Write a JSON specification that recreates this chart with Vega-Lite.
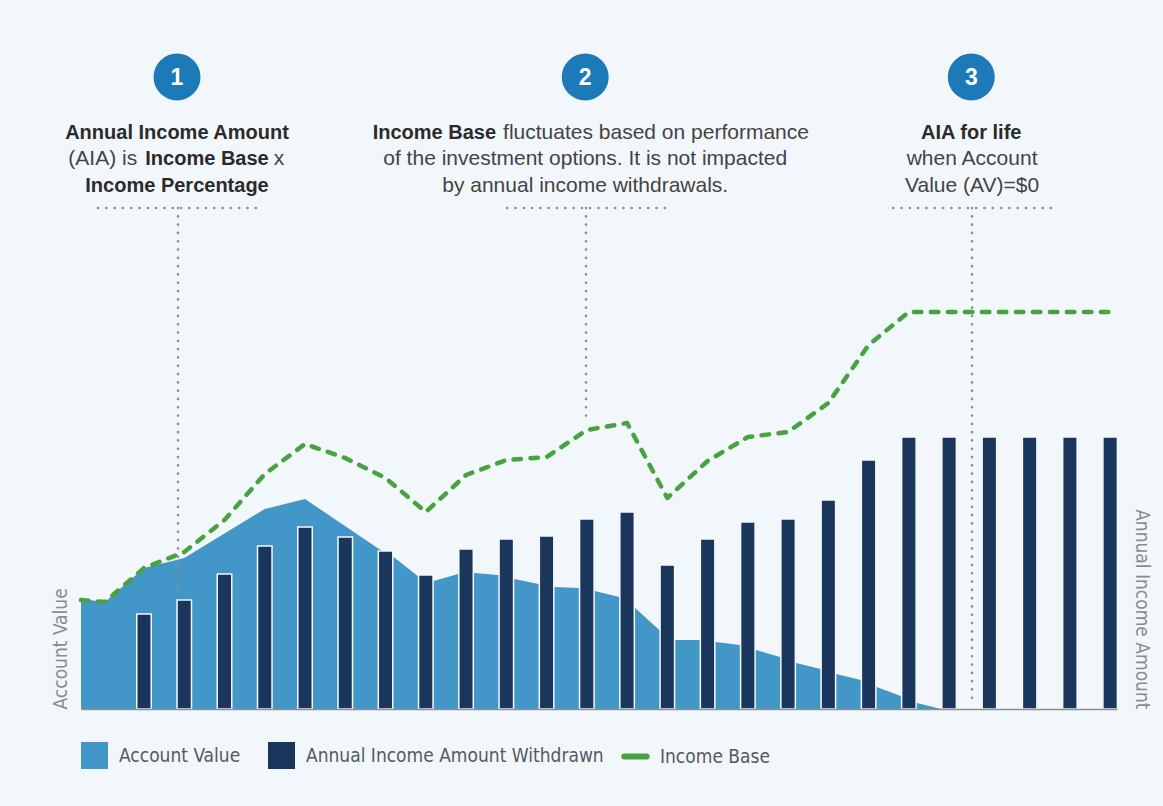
{
  "$schema": "https://vega.github.io/schema/vega-lite/v6.json",
  "width": 1036,
  "height": 689,
  "autosize": {"type": "none"},
  "padding": {"left": 81, "top": 20, "right": 46, "bottom": 97},
  "background": "#f2f7fb",
  "config": {
    "view": {"stroke": null},
    "text": {"font": "Liberation Sans"}
  },
  "datasets": {
    "area": [
      {"t": -0.565, "av": 110}, {"t": 0.03, "av": 107}, {"t": 1, "av": 141}, {"t": 2, "av": 151},
      {"t": 4, "av": 200}, {"t": 5, "av": 210}, {"t": 6.8, "av": 161}, {"t": 7.2, "av": 152},
      {"t": 7.8, "av": 133}, {"t": 8.2, "av": 128}, {"t": 8.8, "av": 135}, {"t": 9.2, "av": 136},
      {"t": 9.8, "av": 134}, {"t": 10.2, "av": 130}, {"t": 10.8, "av": 125}, {"t": 11.2, "av": 122},
      {"t": 11.8, "av": 121}, {"t": 12.2, "av": 118}, {"t": 12.8, "av": 112}, {"t": 13.2, "av": 101},
      {"t": 13.8, "av": 79}, {"t": 14.2, "av": 69}, {"t": 14.8, "av": 69}, {"t": 15.2, "av": 67},
      {"t": 15.8, "av": 64}, {"t": 16.2, "av": 59}, {"t": 16.8, "av": 52}, {"t": 17.2, "av": 46},
      {"t": 17.8, "av": 40}, {"t": 18.2, "av": 35}, {"t": 18.8, "av": 29}, {"t": 19.2, "av": 22},
      {"t": 19.8, "av": 13}, {"t": 20.2, "av": 6}, {"t": 20.8, "av": 0}
    ],
    "bars": [
      {"t": 1, "aia": 95}, {"t": 2, "aia": 109}, {"t": 3, "aia": 135}, {"t": 4, "aia": 163},
      {"t": 5, "aia": 182}, {"t": 6, "aia": 172}, {"t": 7, "aia": 158}, {"t": 8, "aia": 134},
      {"t": 9, "aia": 160}, {"t": 10, "aia": 170}, {"t": 11, "aia": 173}, {"t": 12, "aia": 190},
      {"t": 13, "aia": 197}, {"t": 14, "aia": 144}, {"t": 15, "aia": 170}, {"t": 16, "aia": 187},
      {"t": 17, "aia": 190}, {"t": 18, "aia": 209}, {"t": 19, "aia": 249}, {"t": 20, "aia": 272},
      {"t": 21, "aia": 272}, {"t": 22, "aia": 272}, {"t": 23, "aia": 272}, {"t": 24, "aia": 272},
      {"t": 25, "aia": 272}
    ],
    "base": [
      {"t": -0.565, "ib": 109}, {"t": 0.03, "ib": 107}, {"t": 1, "ib": 141}, {"t": 2, "ib": 157},
      {"t": 3, "ib": 189}, {"t": 4, "ib": 235}, {"t": 5, "ib": 265}, {"t": 6, "ib": 251},
      {"t": 7, "ib": 231}, {"t": 8, "ib": 197}, {"t": 9, "ib": 234}, {"t": 10, "ib": 249},
      {"t": 11, "ib": 252}, {"t": 12, "ib": 279}, {"t": 13, "ib": 286}, {"t": 14, "ib": 211},
      {"t": 15, "ib": 248}, {"t": 16, "ib": 272}, {"t": 17, "ib": 277}, {"t": 18, "ib": 306},
      {"t": 19, "ib": 364}, {"t": 20, "ib": 397}, {"t": 21, "ib": 397}, {"t": 22, "ib": 397},
      {"t": 23, "ib": 397}, {"t": 24, "ib": 397}, {"t": 25, "ib": 397}
    ],
    "hdots": [
      {"t": -0.143, "t2": 3.88, "v": 501},
      {"t": 10.02, "t2": 14.02, "v": 501},
      {"t": 19.61, "t2": 23.58, "v": 501}
    ],
    "vdots": [
      {"t": 1.845, "v": 501, "v2": 119},
      {"t": 11.98, "v": 501, "v2": 292},
      {"t": 21.57, "v": 501, "v2": 9}
    ],
    "circles": [
      {"t": 1.82, "v": 632, "n": "1"},
      {"t": 11.96, "v": 632, "n": "2"},
      {"t": 21.55, "v": 632, "n": "3"}
    ],
    "boldC": [
      {"t": 1.82, "v": 570, "txt": "Annual Income Amount"},
      {"t": 2.565, "v": 544, "txt": "Income Base"},
      {"t": 1.82, "v": 517, "txt": "Income Percentage"},
      {"t": 21.55, "v": 570, "txt": "AIA for life"}
    ],
    "regC": [
      {"t": 11.96, "v": 544, "txt": "of the investment options. It is not impacted"},
      {"t": 11.96, "v": 517, "txt": "by annual income withdrawals."},
      {"t": 21.57, "v": 544, "txt": "when Account"},
      {"t": 21.57, "v": 517, "txt": "Value (AV)=$0"}
    ],
    "boldR": [
      {"t": 9.745, "v": 570, "txt": "Income Base"}
    ],
    "regL": [
      {"t": 9.92, "v": 570, "txt": "fluctuates based on performance"},
      {"t": 4.22, "v": 544, "txt": "x"}
    ],
    "regR": [
      {"t": 0.83, "v": 544, "txt": "(AIA) is"}
    ]
  },
  "layer": [
    {
      "data": {"name": "area"},
      "mark": {"type": "area", "opacity": 1, "interpolate": "linear"},
      "encoding": {
        "x": {"field": "t", "type": "quantitative", "scale": {"domain": [-0.565, 25.17], "nice": false, "zero": false, "padding": 0},
          "axis": {"domain": true, "domainColor": "#8a9097", "domainWidth": 1.5, "ticks": false, "labels": false, "grid": false, "title": null, "zindex": 1}},
        "y": {"field": "av", "type": "quantitative", "scale": {"domain": [0, 689], "nice": false},
          "axis": {"title": "Account Value", "titleAnchor": "start", "domain": false, "ticks": false, "labels": false, "grid": false,
            "titlePadding": 11, "titleFont": "DejaVu Sans Condensed, Roboto, sans-serif", "titleFontSize": 19, "titleFontWeight": "normal", "titleColor": "#8a8d90"}},
        "fill": {"datum": "Account Value", "type": "nominal",
          "scale": {"domain": ["Account Value", "Annual Income Amount Withdrawn"], "range": ["#4396c8", "#1b365d"]},
          "legend": {
            "orient": "none", "legendX": 0, "legendY": 722, "direction": "horizontal", "columns": 2, "title": null,
            "symbolType": "square", "symbolSize": 729, "symbolOpacity": 1, "symbolStrokeWidth": 0,
            "labelFont": "DejaVu Sans Condensed, Roboto, sans-serif", "labelFontSize": 19, "labelColor": "#555a5f",
            "labelOffset": 11, "columnPadding": 27, "labelLimit": 500,
            "encode": {"symbols": {"update": {
              "fill": {"signal": "datum.value === 'Annual Income Amount Withdrawn' ? '#032f58' : scale('fill', datum.value)"},
              "strokeWidth": {"value": 0},
              "opacity": {"value": 1}
            }}}
          }}
      }
    },
    {
      "data": {"name": "bars"},
      "mark": {"type": "bar", "width": 14.5, "stroke": "#f4f8fb", "strokeWidth": 1.5, "opacity": 1},
      "encoding": {
        "x": {"field": "t", "type": "quantitative", "scale": {"domain": [-0.565, 25.17], "nice": false, "zero": false, "padding": 0}},
        "y": {"field": "aia", "type": "quantitative", "scale": {"domain": [0, 689], "nice": false},
          "axis": {"orient": "right", "title": "Annual Income Amount", "titleAnchor": "start", "titleAlign": "right", "domain": false, "ticks": false, "labels": false, "grid": false,
            "titlePadding": 14, "titleFont": "DejaVu Sans Condensed, Roboto, sans-serif", "titleFontSize": 19, "titleFontWeight": "normal", "titleColor": "#8a8d90"}},
        "fill": {"datum": "Annual Income Amount Withdrawn", "type": "nominal"}
      }
    },
    {
      "data": {"name": "base"},
      "mark": {"type": "line", "strokeWidth": 4.5, "strokeDash": [7.5, 9.5], "strokeCap": "round", "strokeJoin": "round"},
      "encoding": {
        "x": {"field": "t", "type": "quantitative", "scale": {"domain": [-0.565, 25.17], "nice": false, "zero": false, "padding": 0}},
        "y": {"field": "ib", "type": "quantitative", "scale": {"domain": [0, 689], "nice": false}, "axis": null},
        "stroke": {"datum": "Income Base", "type": "nominal",
          "scale": {"domain": ["Income Base"], "range": ["#46a340"]},
          "legend": {
            "orient": "none", "legendX": 540, "legendY": 722, "direction": "horizontal", "title": null,
            "symbolType": "stroke", "symbolSize": 500, "symbolStrokeWidth": 6, "symbolOpacity": 1,
            "labelFont": "DejaVu Sans Condensed, Roboto, sans-serif", "labelFontSize": 19, "labelColor": "#555a5f",
            "labelOffset": 10, "labelLimit": 500,
            "encode": {"symbols": {"update": {
              "strokeCap": {"value": "round"},
              "strokeDash": {"value": [1, 0]},
              "opacity": {"value": 1}
            }}}
          }}
      }
    },
    {
      "data": {"name": "hdots"},
      "mark": {"type": "rule", "color": "#8c9095", "strokeWidth": 2.6, "strokeDash": [0.1, 8.2], "strokeCap": "round"},
      "encoding": {
        "x": {"field": "t", "type": "quantitative", "scale": {"domain": [-0.565, 25.17], "nice": false, "zero": false, "padding": 0}},
        "x2": {"field": "t2"},
        "y": {"field": "v", "type": "quantitative", "scale": {"domain": [0, 689], "nice": false}, "axis": null}
      }
    },
    {
      "data": {"name": "vdots"},
      "mark": {"type": "rule", "color": "#8c9095", "strokeWidth": 2.6, "strokeDash": [0.1, 8.2], "strokeCap": "round"},
      "encoding": {
        "x": {"field": "t", "type": "quantitative", "scale": {"domain": [-0.565, 25.17], "nice": false, "zero": false, "padding": 0}},
        "y": {"field": "v", "type": "quantitative", "scale": {"domain": [0, 689], "nice": false}, "axis": null},
        "y2": {"field": "v2"}
      }
    },
    {
      "data": {"name": "circles"},
      "mark": {"type": "point", "shape": "circle", "filled": true, "size": 2206, "color": "#1b7ab7", "opacity": 1},
      "encoding": {
        "x": {"field": "t", "type": "quantitative", "scale": {"domain": [-0.565, 25.17], "nice": false, "zero": false, "padding": 0}},
        "y": {"field": "v", "type": "quantitative", "scale": {"domain": [0, 689], "nice": false}, "axis": null}
      }
    },
    {
      "data": {"name": "circles"},
      "mark": {"type": "text", "color": "white", "fontSize": 23, "fontWeight": "bold", "baseline": "middle", "align": "center", "dy": 1},
      "encoding": {
        "x": {"field": "t", "type": "quantitative", "scale": {"domain": [-0.565, 25.17], "nice": false, "zero": false, "padding": 0}},
        "y": {"field": "v", "type": "quantitative", "scale": {"domain": [0, 689], "nice": false}, "axis": null},
        "text": {"field": "n"}
      }
    },
    {
      "data": {"name": "boldC"},
      "mark": {"type": "text", "color": "#2b2b2b", "fontSize": 20, "fontWeight": "bold", "baseline": "alphabetic", "align": "center"},
      "encoding": {
        "x": {"field": "t", "type": "quantitative", "scale": {"domain": [-0.565, 25.17], "nice": false, "zero": false, "padding": 0}},
        "y": {"field": "v", "type": "quantitative", "scale": {"domain": [0, 689], "nice": false}, "axis": null},
        "text": {"field": "txt"}
      }
    },
    {
      "data": {"name": "regC"},
      "mark": {"type": "text", "color": "#444444", "fontSize": 21, "baseline": "alphabetic", "align": "center"},
      "encoding": {
        "x": {"field": "t", "type": "quantitative", "scale": {"domain": [-0.565, 25.17], "nice": false, "zero": false, "padding": 0}},
        "y": {"field": "v", "type": "quantitative", "scale": {"domain": [0, 689], "nice": false}, "axis": null},
        "text": {"field": "txt"}
      }
    },
    {
      "data": {"name": "boldR"},
      "mark": {"type": "text", "color": "#2b2b2b", "fontSize": 20, "fontWeight": "bold", "baseline": "alphabetic", "align": "right"},
      "encoding": {
        "x": {"field": "t", "type": "quantitative", "scale": {"domain": [-0.565, 25.17], "nice": false, "zero": false, "padding": 0}},
        "y": {"field": "v", "type": "quantitative", "scale": {"domain": [0, 689], "nice": false}, "axis": null},
        "text": {"field": "txt"}
      }
    },
    {
      "data": {"name": "regL"},
      "mark": {"type": "text", "color": "#444444", "fontSize": 21, "baseline": "alphabetic", "align": "left"},
      "encoding": {
        "x": {"field": "t", "type": "quantitative", "scale": {"domain": [-0.565, 25.17], "nice": false, "zero": false, "padding": 0}},
        "y": {"field": "v", "type": "quantitative", "scale": {"domain": [0, 689], "nice": false}, "axis": null},
        "text": {"field": "txt"}
      }
    },
    {
      "data": {"name": "regR"},
      "mark": {"type": "text", "color": "#444444", "fontSize": 21, "baseline": "alphabetic", "align": "right"},
      "encoding": {
        "x": {"field": "t", "type": "quantitative", "scale": {"domain": [-0.565, 25.17], "nice": false, "zero": false, "padding": 0}},
        "y": {"field": "v", "type": "quantitative", "scale": {"domain": [0, 689], "nice": false}, "axis": null},
        "text": {"field": "txt"}
      }
    }
  ],
  "resolve": {"scale": {"y": "independent"}}
}
